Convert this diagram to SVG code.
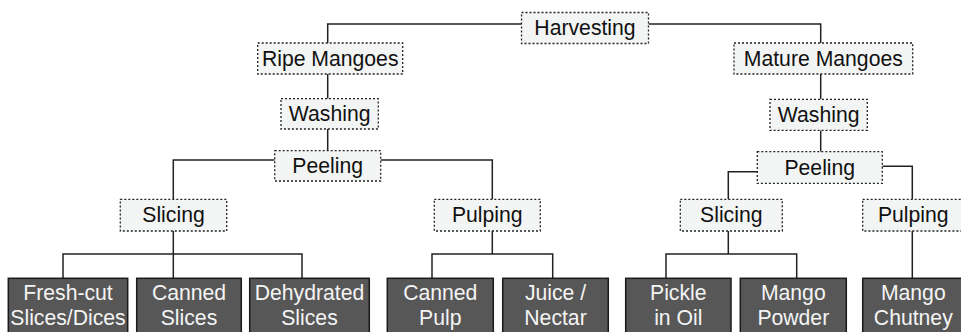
<svg xmlns="http://www.w3.org/2000/svg" width="961" height="332" viewBox="0 0 961 332">
<style>
.step rect{fill:#f3f5f4;stroke:#222;stroke-width:1.3;stroke-dasharray:2 2}
.prod rect{fill:#575757;stroke:#1a1a1a;stroke-width:1.5}
text{font-family:"Liberation Sans",Arial,Helvetica,sans-serif;font-size:21.2px;text-anchor:middle}
.step text{fill:#111}
.prod text{fill:#f4f4f4}
#connectors path{fill:none;stroke:#222;stroke-width:1.5}
</style>
<rect width="961" height="332" fill="#fff"/>
<g id="connectors">
<path d="M521.5 24H327.7V43"/>
<path d="M648.5 24H820.7V43"/>
<path d="M327.7 74V98.7"/>
<path d="M327.7 129V150.7"/>
<path d="M274.7 160H173.3V199.3"/>
<path d="M380.7 160H492.3V199.3"/>
<path d="M173.3 231V278.3"/>
<path d="M63 278.3V254H302V278.3"/>
<path d="M492.3 231V254"/>
<path d="M432 278.3V254H552.7V278.3"/>
<path d="M820.7 74V99.3"/>
<path d="M820.7 130.3V151.7"/>
<path d="M757.3 171.7H728.3V199.3"/>
<path d="M882.3 166.3H912.3V199.3"/>
<path d="M728.3 231V254"/>
<path d="M666 278.3V254H796.7V278.3"/>
<path d="M912.3 231V278.3"/>
</g>
<g id="harvesting" class="step"><rect x="521.5" y="12.5" width="127" height="31"/><text x="585" y="35.3">Harvesting</text></g>
<g id="ripe-mangoes" class="step"><rect x="257.7" y="43" width="145" height="31"/><text x="330.2" y="66">Ripe Mangoes</text></g>
<g id="mature-mangoes" class="step"><rect x="734" y="43" width="178.7" height="31"/><text x="823.3" y="66">Mature Mangoes</text></g>
<g id="washing-ripe" class="step"><rect x="281" y="98.7" width="97.3" height="30.3"/><text x="329.7" y="121.3">Washing</text></g>
<g id="washing-mature" class="step"><rect x="770" y="99.3" width="97.3" height="31"/><text x="818.7" y="122.1">Washing</text></g>
<g id="peeling-ripe" class="step"><rect x="274.7" y="150.7" width="106" height="30.3"/><text x="327.7" y="173.3">Peeling</text></g>
<g id="peeling-mature" class="step"><rect x="757.3" y="151.7" width="125" height="31.6"/><text x="819.8" y="174.8">Peeling</text></g>
<g id="slicing-ripe" class="step"><rect x="120.3" y="199.3" width="106.4" height="31.7"/><text x="173.5" y="222.3">Slicing</text></g>
<g id="pulping-ripe" class="step"><rect x="434.3" y="199.3" width="106" height="31.7"/><text x="487.3" y="222.3">Pulping</text></g>
<g id="slicing-mature" class="step"><rect x="680.3" y="199.3" width="102" height="31.7"/><text x="731.3" y="222.3">Slicing</text></g>
<g id="pulping-mature" class="step"><rect x="862.7" y="199.3" width="102" height="31.7"/><text x="913.3" y="222.3">Pulping</text></g>
<g id="fresh-cut" class="prod"><rect x="8.3" y="278.3" width="119.4" height="60"/><text x="68" y="299.5">Fresh-cut</text><text x="68" y="324.5">Slices/Dices</text></g>
<g id="canned-slices" class="prod"><rect x="136.7" y="278.3" width="104.6" height="60"/><text x="189" y="299.5">Canned</text><text x="189" y="324.5">Slices</text></g>
<g id="dehydrated-slices" class="prod"><rect x="249.7" y="278.3" width="119.6" height="60"/><text x="309.5" y="299.5">Dehydrated</text><text x="309.5" y="324.5">Slices</text></g>
<g id="canned-pulp" class="prod"><rect x="387.3" y="278.3" width="106" height="60"/><text x="440.3" y="299.5">Canned</text><text x="440.3" y="324.5">Pulp</text></g>
<g id="juice-nectar" class="prod"><rect x="502.7" y="278.3" width="105.6" height="60"/><text x="555.5" y="299.5">Juice /</text><text x="555.5" y="324.5">Nectar</text></g>
<g id="pickle-in-oil" class="prod"><rect x="625.7" y="278.3" width="105.3" height="60"/><text x="678.3" y="299.5">Pickle</text><text x="678.3" y="324.5">in Oil</text></g>
<g id="mango-powder" class="prod"><rect x="740.3" y="278.3" width="106" height="60"/><text x="793.3" y="299.5">Mango</text><text x="793.3" y="324.5">Powder</text></g>
<g id="mango-chutney" class="prod"><rect x="862.7" y="278.3" width="102" height="60"/><text x="913.3" y="299.5">Mango</text><text x="913.3" y="324.5">Chutney</text></g>
</svg>
